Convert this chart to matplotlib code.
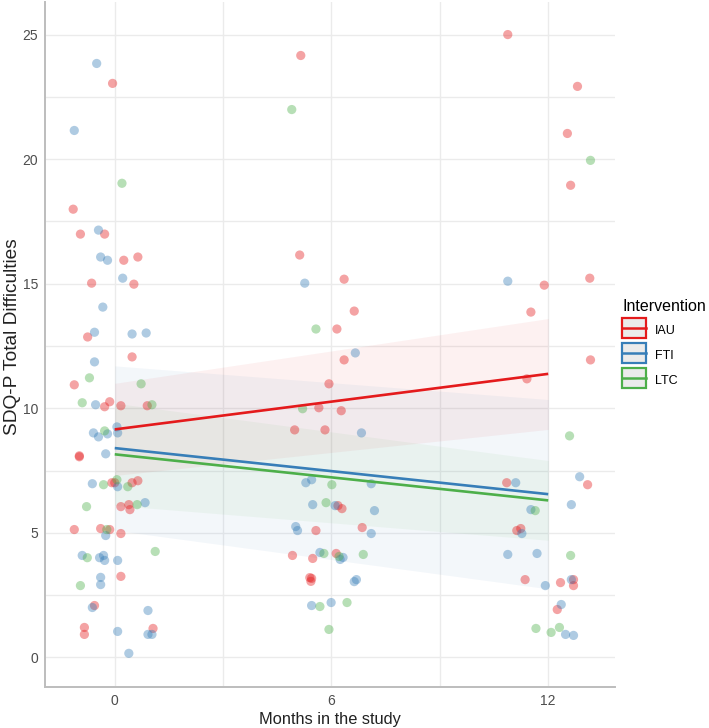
import numpy as np
import matplotlib
matplotlib.use("Agg")
import matplotlib.pyplot as plt
from matplotlib.patches import Rectangle
from matplotlib.lines import Line2D
from matplotlib.ticker import MultipleLocator

plt.rcParams['font.family'] = ['Liberation Sans', 'DejaVu Sans']

# jittered points (months, score)
iau_x = [-0.06, -1.15, -0.95, -0.28, 0.25, 0.64, -0.64, 0.53, -0.75, 0.48, -1.12, -0.28, -0.14,
         0.17, 0.9, -0.98, -0.98, -0.08, 0.0, 0.48, 0.64, 0.17, 0.39, 0.42, -1.12, -0.39, -0.14,
         0.17, 0.17, -0.56, -0.84, -0.84, 1.06,
         5.15, 5.12, 6.35, 6.63, 6.15, 6.35, 5.93, 5.65, 6.27, 4.98, 5.82, 6.18, 6.29, 5.57, 6.85,
         4.92, 5.48, 6.13, 5.4, 5.45, 5.43,
         10.88, 12.81, 12.53, 12.62, 11.89, 13.15, 11.52, 13.17, 11.41, 10.85, 13.09, 11.13, 11.24,
         11.36, 12.34, 12.7, 12.7, 12.25]
iau_y = [23.04, 17.99, 16.99, 16.99, 15.94, 16.07, 15.02, 14.98, 12.86, 12.06, 10.94, 10.06, 10.26,
         10.1, 10.1, 8.09, 8.05, 7.01, 7.01, 7.01, 7.09, 6.05, 6.13, 5.93, 5.13, 5.17, 5.13,
         4.97, 3.25, 2.08, 1.2, 0.92, 1.16,
         24.16, 16.15, 15.18, 13.9, 13.18, 11.94, 10.98, 10.02, 9.9, 9.13, 9.13, 6.09, 5.97, 5.09, 5.21,
         4.09, 3.97, 4.17, 3.2, 3.17, 3.05,
         25.0, 22.92, 21.03, 18.95, 14.94, 15.22, 13.86, 11.94, 11.18, 7.01, 6.93, 5.09, 5.17,
         3.12, 3.0, 3.12, 2.88, 1.92]

fti_x = [-0.5, -1.12, -0.45, -0.39, -0.2, 0.22, -0.33, -0.56, 0.48, 0.87, -0.56, -0.53, 0.06,
         -0.59, -0.45, -0.2, 0.08, -0.25, -0.62, 0.08, 0.84, -0.25, -0.9, -0.42, -0.31, -0.28,
         0.08, -0.39, -0.39, -0.62, 0.92, 0.08, 0.92, 1.03, 0.39,
         5.26, 6.66, 6.83, 5.29, 5.45, 7.1, 5.48, 6.1, 7.19, 5.01, 5.06, 7.1, 5.68, 6.24, 6.32,
         6.63, 6.69, 5.45, 5.99,
         10.88, 11.1, 12.87, 11.52, 12.64, 11.27, 10.88, 11.69, 11.92, 12.64, 12.36, 12.48, 12.7]
fti_y = [23.84, 21.15, 17.15, 16.07, 15.94, 15.22, 14.06, 13.05, 12.98, 13.02, 11.86, 10.14, 9.25,
         9.01, 8.85, 8.97, 9.01, 8.17, 6.97, 6.85, 6.21, 4.89, 4.09, 4.0, 4.09, 3.89,
         3.89, 3.21, 2.92, 2.0, 1.88, 1.04, 0.92, 0.92, 0.16,
         15.02, 12.22, 9.01, 7.01, 7.13, 6.97, 6.13, 6.09, 5.89, 5.25, 5.09, 4.97, 4.21, 3.93, 4.01,
         3.04, 3.12, 2.08, 2.2,
         15.1, 7.01, 7.25, 5.93, 6.13, 4.97, 4.13, 4.17, 2.88, 3.12, 2.12, 0.92, 0.88]

ltc_x = [0.2, -0.7, 0.73, -0.9, 1.03, -0.28, -0.31, 0.06, 0.36, -0.78, 0.62, -0.22, 1.12, -0.76, -0.95,
         4.9, 5.57, 5.2, 6.01, 5.85, 5.79, 6.21, 6.88, 5.68, 6.43, 5.93,
         13.17, 12.59, 11.64, 12.62, 11.66, 12.08, 12.31]
ltc_y = [19.03, 11.22, 10.98, 10.22, 10.14, 9.09, 6.93, 7.13, 6.85, 6.05, 6.13, 5.13, 4.25, 4.0, 2.88,
         21.99, 13.18, 9.98, 6.93, 6.21, 4.17, 4.05, 4.13, 2.04, 2.2, 1.12,
         19.95, 8.89, 5.89, 4.09, 1.16, 1.0, 1.2]

# fitted lines and bands at month 0 and month 12
fit_months = [0, 12]
iau_fit = [9.15, 11.38]
iau_lo = [7.3, 9.15]
iau_hi = [11.0, 13.6]
fti_fit = [8.4, 6.55]
fti_lo = [5.1, 2.75]
fti_hi = [11.7, 10.35]
ltc_fit = [8.15, 6.3]
ltc_lo = [6.1, 4.7]
ltc_hi = [10.2, 7.9]

groups = ["IAU", "FTI", "LTC"]
colors = ["#E41A1C", "#377EB8", "#4DAF4A"]


class KeyHandler:
    # ggplot-like key: grey box with coloured frame and a line through the middle
    def legend_artist(self, legend, orig_handle, fontsize, handlebox):
        c = orig_handle.get_color()
        x0, y0 = handlebox.xdescent, handlebox.ydescent
        gap = 0.9
        w, h = handlebox.width, handlebox.height + y0 - 2 * gap
        tr = handlebox.get_transform()
        rect = Rectangle((-x0, -y0 + gap), w, h, facecolor='#ebebeb', edgecolor=c, lw=1.6,
                         transform=tr)
        line = Line2D([-x0, -x0 + w], [-y0 + gap + h / 2] * 2, color=c, lw=1.8, transform=tr)
        handlebox.add_artist(rect)
        handlebox.add_artist(line)
        return rect


fig = plt.figure(figsize=(7.09, 7.28), dpi=100)
ax = fig.add_axes([0.0635, 0.056, 0.804, 0.941])

pts = [(iau_x, iau_y), (fti_x, fti_y), (ltc_x, ltc_y)]
for (px, py), c in zip(pts, colors):
    ax.scatter(px, py, s=44, color=c, alpha=0.4, edgecolors='none', zorder=3)

bands = [(iau_lo, iau_hi), (fti_lo, fti_hi), (ltc_lo, ltc_hi)]
for (lo, hi), c in zip(bands, colors):
    ax.fill_between(fit_months, lo, hi, color=c, alpha=0.06, linewidth=0, zorder=2)

fits = [iau_fit, fti_fit, ltc_fit]
for f, c in zip(fits, colors):
    ax.plot(fit_months, f, color=c, lw=1.9, zorder=4, solid_capstyle='butt')

ax.set_xlim(-1.93, 13.85)
ax.set_ylim(-1.2, 26.3)
ax.set_xticks([0, 6, 12])
ax.set_yticks([0, 5, 10, 15, 20, 25])
ax.xaxis.set_minor_locator(MultipleLocator(3))
ax.yaxis.set_minor_locator(MultipleLocator(2.5))
ax.grid(True, which='both', color='#ebebeb', lw=1.0, zorder=0)
ax.set_axisbelow(True)
ax.tick_params(which='both', length=0, labelsize=10, colors='#4d4d4d', pad=5)
for s in ['top', 'right']:
    ax.spines[s].set_visible(False)
for s in ['left', 'bottom']:
    ax.spines[s].set_color('#bdbdbd')
    ax.spines[s].set_linewidth(1.4)

ax.set_xlabel("Months in the study", fontsize=11.8, color='#222222', labelpad=3)
ax.set_ylabel("SDQ-P Total Difficulties", fontsize=13.8, color='#222222')
ax.yaxis.set_label_coords(-0.042, 0.512)

handles = [Line2D([], [], color=c) for c in colors]
leg = fig.legend(handles, groups, title="Intervention", loc='center left',
                 bbox_to_anchor=(0.862, 0.527), frameon=False, fontsize=9,
                 title_fontsize=11.5, handler_map={Line2D: KeyHandler()},
                 handlelength=1.92, handleheight=1.84, handletextpad=0.7, labelspacing=0.56)
leg._legend_box.align = "left"

fig.savefig("out.png", dpi=100)
